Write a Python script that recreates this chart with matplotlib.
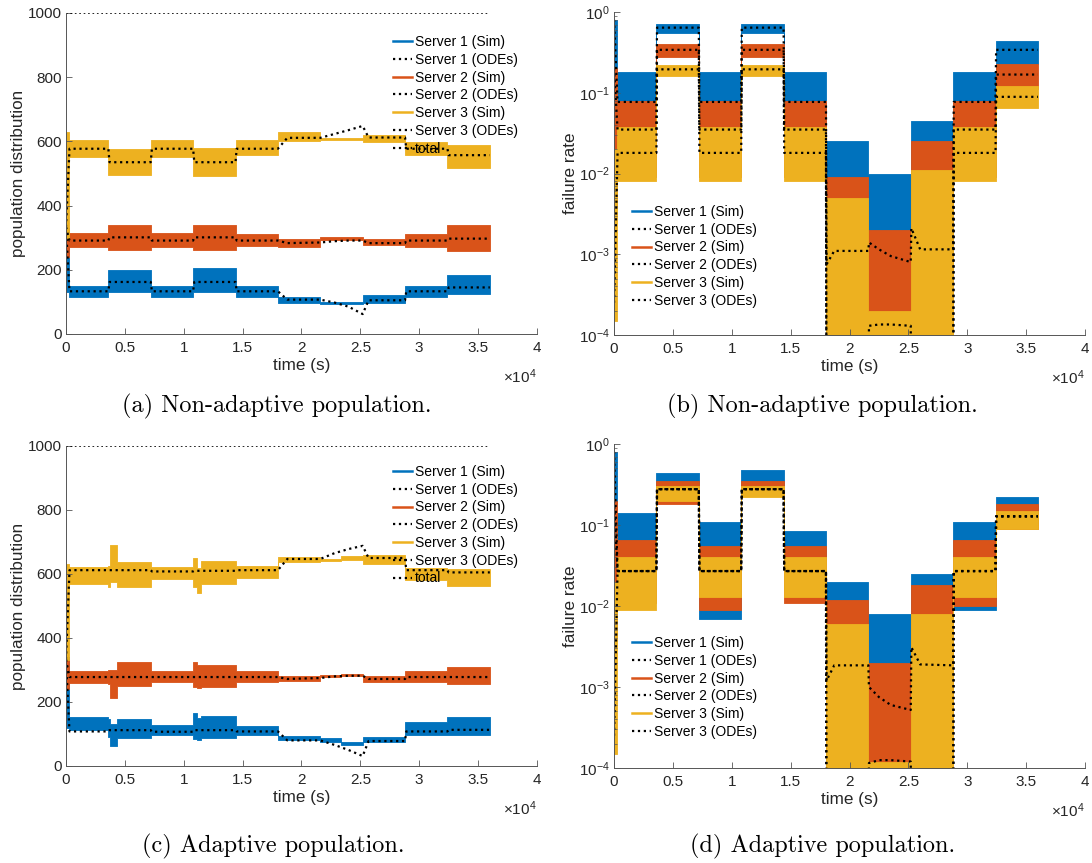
import matplotlib.pyplot as plt
from matplotlib.lines import Line2D
from matplotlib.ticker import LogLocator, NullFormatter

plt.rcParams['font.family'] = ['Liberation Sans', 'DejaVu Sans']
plt.rcParams['mathtext.fontset'] = 'custom'
plt.rcParams['mathtext.rm'] = 'Liberation Sans'
plt.rcParams['mathtext.it'] = 'Liberation Sans:italic'

AZUL = '#0072BD'
ROJO = '#D95319'
AMARILLO = '#EDB120'
GRIS = '#262626'

# ---------------- (a) no adaptativo, poblacion ----------------
edges_a = [0, 250, 3600, 7200, 10800, 14400, 18000, 21600, 25200, 28800, 32400, 36000]
s1_lo_a = [130, 114, 130, 114, 130, 116, 98, 94, 96, 114, 124]
s1_hi_a = [300, 150, 200, 150, 205, 148, 114, 101, 120, 150, 185]
s2_lo_a = [240, 270, 262, 270, 262, 273, 270, 293, 277, 270, 258]
s2_hi_a = [330, 314, 338, 314, 340, 310, 295, 302, 297, 310, 340]
s3_lo_a = [300, 552, 495, 552, 492, 557, 600, 603, 598, 558, 518]
s3_hi_a = [630, 605, 575, 605, 578, 605, 628, 610, 620, 598, 590]

t_ode_a = [0, 300, 3600, 3700, 7200, 7300, 10800, 10900, 14400, 14500, 18000, 18800,
           21600, 22800, 24000, 25200, 25700, 28800, 28900, 32400, 32500, 36000]
ode1_a = [333, 133, 133, 162, 162, 133, 133, 162, 162, 133, 133, 107, 107, 98, 85, 62, 105, 105, 133, 133, 145, 145]
ode2_a = [333, 291, 291, 301, 301, 291, 291, 301, 301, 291, 291, 283, 285, 289, 291, 291, 283, 283, 291, 291, 297, 297]
ode3_a = [333, 577, 577, 535, 535, 577, 577, 535, 535, 577, 577, 611, 611, 623, 635, 648, 612, 612, 577, 577, 557, 557]

# ---------------- (b) no adaptativo, tasa de fallo ----------------
edges_b = [0, 250, 3600, 7200, 10800, 14400, 18000, 21600, 25200, 28800, 32400, 36000]
s1_lo_b = [0.08, 0.03, 0.55, 0.03, 0.55, 0.03, 1e-5, 1e-5, 1e-5, 0.03, 0.23]
s1_hi_b = [0.8, 0.18, 0.72, 0.18, 0.72, 0.18, 0.025, 0.01, 0.045, 0.18, 0.44]
s2_lo_b = [0.004, 0.009, 0.28, 0.009, 0.28, 0.009, 1e-5, 1e-5, 1e-5, 0.009, 0.11]
s2_hi_b = [0.2, 0.08, 0.4, 0.08, 0.4, 0.08, 0.009, 0.002, 0.025, 0.08, 0.23]
s3_lo_b = [1.5e-4, 0.008, 0.16, 0.008, 0.16, 0.008, 1e-5, 1e-5, 1e-5, 0.008, 0.065]
s3_hi_b = [0.02, 0.038, 0.22, 0.038, 0.22, 0.038, 0.005, 2e-4, 0.011, 0.038, 0.12]

t_ode_log = [0, 300, 3600, 3650, 7200, 7250, 10800, 10850, 14400, 14450, 18000, 18050, 18700,
             21600, 21650, 22500, 23500, 25200, 25250, 26000, 28800, 28850, 32400, 32450, 36000]
ode1_b = [0.8, 0.077, 0.077, 0.64, 0.64, 0.077, 0.077, 0.64, 0.64, 0.077, 0.077, 7.5e-4, 1.1e-3,
          1.1e-3, 1.4e-3, 1.15e-3, 9.5e-4, 8e-4, 2.1e-3, 1.15e-3, 1.15e-3, 0.077, 0.077, 0.34, 0.34]
ode2_b = [0.2, 0.035, 0.035, 0.34, 0.34, 0.035, 0.035, 0.34, 0.34, 0.035, 0.035, 1e-6, 1e-6,
          1e-6, 1.3e-4, 1.35e-4, 1.35e-4, 1.3e-4, 1e-6, 1e-6, 1e-6, 0.035, 0.035, 0.168, 0.168]
ode3_b = [2.5e-4, 0.018, 0.018, 0.195, 0.195, 0.018, 0.018, 0.195, 0.195, 0.018, 0.018, 1e-6, 1e-6,
          1e-6, 1e-6, 1e-6, 1e-6, 1e-6, 1e-6, 1e-6, 1e-6, 0.018, 0.018, 0.089, 0.089]

# ---------------- (c) adaptativo, poblacion ----------------
edges_c = [0, 250, 3600, 3700, 4300, 7200, 10800, 11100, 11500, 14400, 18000, 21600, 23400,
           25200, 28800, 32400, 36000]
s1_lo_c = [120, 112, 90, 62, 88, 96, 85, 80, 88, 96, 80, 76, 66, 74, 96, 96]
s1_hi_c = [340, 152, 148, 130, 148, 128, 165, 150, 155, 124, 95, 88, 76, 92, 138, 152]
s2_lo_c = [240, 260, 255, 212, 250, 262, 248, 245, 248, 262, 266, 279, 281, 264, 262, 256]
s2_hi_c = [330, 298, 300, 300, 325, 298, 325, 315, 315, 296, 282, 285, 287, 282, 298, 310]
s3_lo_c = [330, 570, 560, 575, 558, 583, 560, 540, 568, 586, 638, 640, 645, 632, 582, 562]
s3_hi_c = [630, 622, 625, 690, 638, 622, 650, 620, 640, 625, 652, 648, 655, 658, 618, 615]

t_ode_c = t_ode_a
ode1_c = [333, 108, 108, 112, 112, 107, 107, 112, 112, 108, 108, 80, 80, 66, 50, 31, 78, 78, 108, 108, 113, 113]
ode2_c = [333, 278, 278, 278, 278, 278, 278, 278, 278, 278, 278, 272, 275, 280, 282, 282, 272, 272, 278, 278, 278, 278]
ode3_c = [333, 612, 612, 612, 612, 608, 608, 610, 610, 612, 612, 647, 647, 665, 678, 688, 650, 650, 612, 612, 605, 605]

# ---------------- (d) adaptativo, tasa de fallo ----------------
edges_d = [0, 250, 3600, 7200, 10800, 14400, 18000, 21600, 25200, 28800, 32400, 36000]
s1_lo_d = [0.05, 0.04, 0.25, 0.007, 0.3, 0.015, 1e-5, 1e-5, 1e-5, 0.009, 0.1]
s1_hi_d = [0.8, 0.14, 0.44, 0.11, 0.48, 0.085, 0.02, 0.008, 0.025, 0.11, 0.22]
s2_lo_d = [0.004, 0.011, 0.18, 0.009, 0.25, 0.011, 1e-5, 1e-5, 1e-5, 0.01, 0.09]
s2_hi_d = [0.2, 0.065, 0.35, 0.055, 0.35, 0.055, 0.012, 0.002, 0.018, 0.065, 0.18]
s3_lo_d = [1.5e-4, 0.009, 0.2, 0.013, 0.22, 0.013, 1e-5, 1e-5, 1e-5, 0.013, 0.09]
s3_hi_d = [0.02, 0.04, 0.3, 0.04, 0.3, 0.04, 0.006, 1.2e-4, 0.008, 0.04, 0.15]

ode1_d = [0.8, 0.027, 0.027, 0.277, 0.277, 0.027, 0.027, 0.277, 0.277, 0.027, 0.027, 1.2e-3, 1.85e-3,
          1.85e-3, 1e-3, 7.5e-4, 6e-4, 5.2e-4, 3.1e-3, 1.9e-3, 1.85e-3, 0.027, 0.027, 0.128, 0.128]
ode2_d = [0.2, 0.027, 0.027, 0.277, 0.277, 0.027, 0.027, 0.277, 0.277, 0.027, 0.027, 1e-6, 1e-6,
          1e-6, 1.15e-4, 1.25e-4, 1.25e-4, 1.2e-4, 1e-6, 1e-6, 1e-6, 0.027, 0.027, 0.128, 0.128]
ode3_d = [2.5e-4, 0.027, 0.027, 0.277, 0.277, 0.027, 0.027, 0.277, 0.277, 0.027, 0.027, 1e-6, 1e-6,
          1e-6, 1e-6, 1e-6, 1e-6, 1e-6, 1e-6, 1e-6, 1e-6, 0.027, 0.027, 0.128, 0.128]

total_t = [0, 36000]
total_val = [1000, 1000]

etiquetas = ['Server 1 (Sim)', 'Server 1 (ODEs)', 'Server 2 (Sim)', 'Server 2 (ODEs)',
             'Server 3 (Sim)', 'Server 3 (ODEs)']
xticks = [0, 5000, 10000, 15000, 20000, 25000, 30000, 35000, 40000]
xtick_labels = ['0', '0.5', '1', '1.5', '2', '2.5', '3', '3.5', '4']
captions = ['(a) Non-adaptive population.', '(b) Non-adaptive population.',
            '(c) Adaptive population.', '(d) Adaptive population.']


def dibujar(ax, edges, bandas, t_ode, odes, log=False, total=False):
    colores = [AZUL, ROJO, AMARILLO]
    for (lo, hi), c in zip(bandas, colores):
        ax.fill_between(edges, lo + [lo[-1]], hi + [hi[-1]], step='post', color=c, lw=0.6,
                        edgecolor=c)
    for o in odes:
        ax.plot(t_ode, o, color='black', ls=':', lw=1.6)
    handles = []
    for c in colores:
        handles.append(Line2D([], [], color=c, lw=1.8))
        handles.append(Line2D([], [], color='black', ls=':', lw=1.6))
    labels = list(etiquetas)
    if total:
        ax.plot(total_t, total_val, color='black', ls=':', lw=1.2)
        handles.append(Line2D([], [], color='black', ls=':', lw=1.6))
        labels.append('total')

    ax.set_xlim(0, 40000)
    ax.set_xticks(xticks)
    ax.set_xticklabels(xtick_labels)
    if log:
        ax.set_yscale('log')
        ax.set_ylim(1e-4, 1)
        ax.yaxis.set_major_locator(LogLocator(base=10, numticks=10))
        ax.yaxis.set_minor_locator(LogLocator(base=10, subs=range(2, 10), numticks=10))
        ax.yaxis.set_minor_formatter(NullFormatter())
        ax.set_ylabel('failure rate', fontsize=12.3, color=GRIS, labelpad=1)
    else:
        ax.set_ylim(0, 1000)
        ax.set_yticks([0, 200, 400, 600, 800, 1000])
        ax.set_ylabel('population distribution', fontsize=12.3, color=GRIS, labelpad=1)
    ax.set_xlabel('time (s)', fontsize=12.3, color=GRIS, labelpad=2)

    for s in ['top', 'right']:
        ax.spines[s].set_visible(False)
    for s in ['left', 'bottom']:
        ax.spines[s].set_color('#555555')
        ax.spines[s].set_linewidth(0.7)
    ax.tick_params(which='both', direction='in', colors='#555555', labelcolor=GRIS, labelsize=11)
    ax.tick_params(which='major', length=4, width=0.6)
    ax.tick_params(which='minor', length=2, width=0.5)
    ax.tick_params(axis='x', pad=5)
    ax.tick_params(axis='y', pad=3)
    ax.annotate('×10$^{4}$', xy=(1, 0), xycoords='axes fraction', xytext=(0, -31),
                textcoords='offset points', ha='right', va='center', fontsize=11, color=GRIS)
    return handles, labels


fig = plt.figure(figsize=(10.92, 8.63), dpi=100)

ax_a = fig.add_axes([0.0604, 0.6130, 0.4313, 0.3720])
ax_b = fig.add_axes([0.5623, 0.6118, 0.4313, 0.3743])
ax_c = fig.add_axes([0.0604, 0.1124, 0.4313, 0.3708])
ax_d = fig.add_axes([0.5623, 0.1101, 0.4313, 0.3754])

ley = dict(loc='upper left', frameon=False, fontsize=10, handlelength=1.4, handletextpad=0.2,
           labelspacing=0.27, borderpad=0, borderaxespad=0)

h, l = dibujar(ax_a, edges_a, [(s1_lo_a, s1_hi_a), (s2_lo_a, s2_hi_a), (s3_lo_a, s3_hi_a)],
               t_ode_a, [ode1_a, ode2_a, ode3_a], total=True)
fig.legend(h, l, bbox_to_anchor=(0.3599, 0.9594), **ley)

h, l = dibujar(ax_b, edges_b, [(s1_lo_b, s1_hi_b), (s2_lo_b, s2_hi_b), (s3_lo_b, s3_hi_b)],
               t_ode_log, [ode1_b, ode2_b, ode3_b], log=True)
fig.legend(h, l, bbox_to_anchor=(0.5788, 0.7625), **ley)

h, l = dibujar(ax_c, edges_c, [(s1_lo_c, s1_hi_c), (s2_lo_c, s2_hi_c), (s3_lo_c, s3_hi_c)],
               t_ode_c, [ode1_c, ode2_c, ode3_c], total=True)
fig.legend(h, l, bbox_to_anchor=(0.3599, 0.4612), **ley)

h, l = dibujar(ax_d, edges_d, [(s1_lo_d, s1_hi_d), (s2_lo_d, s2_hi_d), (s3_lo_d, s3_hi_d)],
               t_ode_log, [ode1_d, ode2_d, ode3_d], log=True)
fig.legend(h, l, bbox_to_anchor=(0.5788, 0.2630), **ley)

fig.text(0.253, 0.5295, captions[0], ha='center', va='center', fontsize=17.5, family='cmr10')
fig.text(0.753, 0.5295, captions[1], ha='center', va='center', fontsize=17.5, family='cmr10')
fig.text(0.250, 0.0197, captions[2], ha='center', va='center', fontsize=17.5, family='cmr10')
fig.text(0.753, 0.0197, captions[3], ha='center', va='center', fontsize=17.5, family='cmr10')

fig.savefig('out.png', dpi=100)
